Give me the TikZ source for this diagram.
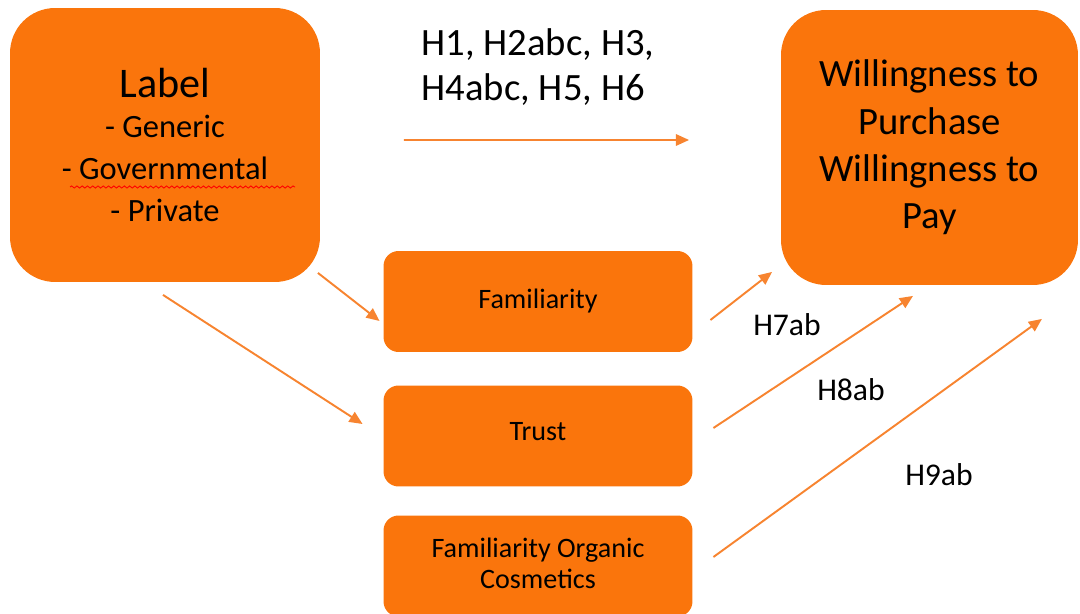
\documentclass[tikz,border=0pt]{standalone}
\usepackage{fontspec}
\setmainfont{Carlito}
\usetikzlibrary{positioning,arrows.meta,decorations.pathmorphing}
\definecolor{boxorange}{RGB}{250,117,12}
\definecolor{arroworange}{RGB}{247,132,48}

\begin{document}
\begin{tikzpicture}[
    x=0.02cm, y=-0.02cm,
    ->,
    >={Triangle[length=7.5pt,width=6.5pt]},
    line width=1.1pt
]

\tikzstyle{bigbox}=[
    fill=boxorange,
    rounded corners=0.9cm,
    minimum width=6.2cm,
    minimum height=5.48cm,
    align=center
]
\tikzstyle{midbox}=[
    fill=boxorange,
    rounded corners=0.3cm,
    minimum width=6.18cm,
    minimum height=2.02cm,
    align=center,
    font=\fontsize{16}{17.5}\selectfont
]
\tikzstyle{flow}=[draw=arroworange]
\tikzstyle{hyp}=[font=\fontsize{18}{22}\selectfont]

\useasboundingbox (0,0) rectangle (1080,614);

\node[bigbox, font=\fontsize{18.5}{24}\selectfont] (label) at (165,145)
    {{\fontsize{24}{28}\selectfont Label}\\[-1pt] - Generic\\ - Governmental\\ - Private};
\node[bigbox, minimum width=5.94cm, minimum height=5.5cm,
      font=\fontsize{22}{27}\selectfont] (wtp) at (929.5,147.5)
    {Willingness to\\Purchase\\Willingness to\\Pay};

\node[midbox] (fam) at (538,301.5) {Familiarity};
\node[midbox, text depth=0.2cm] (trust) at (538,436) {Trust};
\node[midbox, text depth=0.12cm] (foc) at (538,566) {Familiarity Organic\\Cosmetics};

\node[align=left, font=\fontsize{22}{26}\selectfont] (hmain) at (538,67)
    {H1, H2abc, H3,\\H4abc, H5, H6};

% spell-check mark
\draw[-, red, line width=0.5pt, decorate,
      decoration={snake, segment length=3pt, amplitude=0.6pt}]
    (70,187) -- (295,187);

\draw[flow, shorten <=1.66cm, shorten >=1.82cm]
    ([yshift=0.1cm]label.east) -- ([yshift=0.15cm]wtp.west);
\draw[flow] ([shift={(-0.06cm,0.2cm)}]label.south east) -- ([shift={(-0.06cm,-0.39cm)}]fam.west);
\draw[flow] ([shift={(-0.04cm,-0.24cm)}]label.south) -- ([shift={(-0.4cm,0.24cm)}]trust.west);

\draw[flow] ([shift={(0.34cm,-0.37cm)}]fam.east) -- ([shift={(-0.16cm,0.28cm)}]wtp.south west);
\draw[flow] ([shift={(0.4cm,0.16cm)}]trust.east) -- ([shift={(-0.33cm,-0.2cm)}]wtp.south);
\draw[flow] ([shift={(0.4cm,0.18cm)}]foc.east) -- ([shift={(-0.74cm,-0.66cm)}]wtp.south east);

\node[hyp] (h7) at (787,325) {H7ab};
\node[hyp] (h8) at (851,390) {H8ab};
\node[hyp] (h9) at (939,475) {H9ab};

\end{tikzpicture}
\end{document}
